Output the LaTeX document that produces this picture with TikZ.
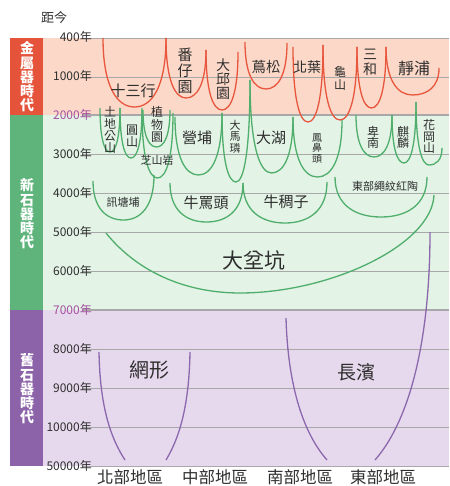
\documentclass[tikz,border=0pt]{standalone}
\usepackage{fontspec}
\setmainfont{Noto Sans CJK TC}
\definecolor{metalline}{HTML}{E8563E}
\definecolor{neoline}{HTML}{4FAE6C}
\definecolor{paleoline}{HTML}{8B68AD}
\definecolor{metalbg}{HTML}{FBD8C8}
\definecolor{neobg}{HTML}{E3F3E6}
\definecolor{paleobg}{HTML}{E7D9ED}
\definecolor{metalbox}{HTML}{E5533A}
\definecolor{neobox}{HTML}{5EB47B}
\definecolor{paleobox}{HTML}{8C63A9}
\definecolor{gridgrey}{HTML}{A8A8A8}
\definecolor{labtext}{HTML}{2E2E2E}
\definecolor{bounds}{HTML}{A5509F}
\newcommand{\fs}[1]{\fontsize{#1}{#1}\selectfont}
% U-shaped span: left top, right top, bottom
\newcommand{\ubowl}[5]{(#1,#2) .. controls (#1,{#2+0.7*(#5-#2)}) and ({#1+0.22*(#3-#1)},#5) .. ({(#1+#3)/2},#5)
  .. controls ({#3-0.22*(#3-#1)},#5) and (#3,{#4+0.7*(#5-#4)}) .. (#3,#4)}
\tikzset{
  metal/.style={draw=metalline,line width=1.3pt},
  neo/.style={draw=neoline,line width=1.3pt},
  paleo/.style={draw=paleoline,line width=1.3pt},
  lab/.style={text=labtext,inner sep=0pt},
  vlab/.style={lab,align=center},
  year/.style={anchor=east,inner sep=0pt,text=labtext,font=\fontsize{12}{13}\selectfont},
  agebox/.style={text=white,align=center,inner sep=0pt,font=\bfseries\fontsize{14}{14.3}\selectfont}
}
\begin{document}
\begin{tikzpicture}[x=1pt,y=-1pt]
  \useasboundingbox (0,0) rectangle (449,486);
  % bands
  \fill[metalbg] (43,38) rectangle (449,115);
  \fill[neobg] (43,115) rectangle (449,310);
  \fill[paleobg] (43,310) rectangle (449,466);
  \fill[metalbox] (10,38) rectangle (43,115);
  \fill[neobox] (10,115) rectangle (43,310);
  \fill[paleobox] (10,310) rectangle (43,466);
  \node[agebox] (metalage) at (27,77) {金\\屬\\器\\時\\代};
  \node[agebox] (neoage) at (27,214) {新\\石\\器\\時\\代};
  \node[agebox] (paleoage) at (27,389) {舊\\石\\器\\時\\代};
  % time lines
  \draw[gridgrey,line width=0.7pt] (82,38) -- (449,38) (82,77) -- (449,77) (82,154) -- (449,154)
     (82,193) -- (449,193) (82,232) -- (449,232) (82,271) -- (449,271) (82,349) -- (449,349)
     (82,388) -- (449,388) (82,427) -- (449,427) (82,466) -- (449,466);
  \draw[gridgrey,line width=1.2pt] (82,115) -- (449,115) (82,310) -- (449,310);
  \node[lab,font=\fs{13}] (since) at (54,18) {距今};
  \node[year] (y400) at (92,37) {400年};
  \node[year] (y1000) at (92,76) {1000年};
  \node[year,text=bounds] (y2000) at (92,115) {2000年};
  \node[year] (y3000) at (92,154) {3000年};
  \node[year] (y4000) at (92,193) {4000年};
  \node[year] (y5000) at (92,232) {5000年};
  \node[year] (y6000) at (92,271) {6000年};
  \node[year,text=bounds] (y7000) at (92,310) {7000年};
  \node[year] (y8000) at (92,349) {8000年};
  \node[year] (y9000) at (92,388) {9000年};
  \node[year] (y10000) at (92,427) {10000年};
  \node[year] (y50000) at (92,466) {50000年};
  % metal age
  \draw[metal] \ubowl{103}{38}{166}{38}{107};
  \draw[metal] \ubowl{166}{38}{206}{50}{98};
  \draw[metal] \ubowl{206}{50}{238}{52}{110};
  \draw[metal] \ubowl{245}{42}{287}{43}{89};
  \draw[metal] \ubowl{293}{47}{323}{45}{122};
  \draw[metal] \ubowl{323}{45}{357}{47}{120};
  \draw[metal] \ubowl{357}{47}{386}{47}{108};
  \draw[metal] \ubowl{386}{47}{439}{68}{95};
  \node[lab,font=\fs{15}] (shisanhang) at (133,91) {十三行};
  \node[vlab,font=\fontsize{15}{16}\selectfont] (fanziyuan) at (185,71) {番\\仔\\園};
  \node[vlab,font=\fontsize{14}{14}\selectfont] (daqiuyuan) at (223,79) {大\\邱\\園};
  \node[lab,font=\fs{14.5}] (niaosong) at (266,67) {蔦松};
  \node[lab,font=\fs{14}] (beiye) at (307,67) {北葉};
  \node[vlab,font=\fontsize{12}{13}\selectfont] (guishan) at (340,78.5) {龜\\山};
  \node[vlab,font=\fontsize{14}{15}\selectfont] (sanhe) at (370,62.5) {三\\和};
  \node[lab,font=\fs{16}] (jingpu) at (414,68) {靜浦};
  % neolithic age
  \draw[neo] \ubowl{100}{108}{120}{108}{152};
  \draw[neo] \ubowl{120}{108}{142}{108}{158};
  \draw[neo] \ubowl{143}{110}{170}{110}{147};
  \draw[neo] \ubowl{142}{110}{173}{113}{178};
  \draw[neo] \ubowl{93}{181}{154}{175}{220};
  \draw[neo] \ubowl{175}{117}{222}{113}{175};
  \draw[neo] \ubowl{222}{113}{250}{80}{182};
  \draw[neo] \ubowl{250}{80}{293}{117}{173};
  \draw[neo] \ubowl{293}{117}{342}{120}{177};
  \draw[neo] \ubowl{356}{115}{392}{115}{157};
  \draw[neo] \ubowl{392}{115}{416}{102}{163};
  \draw[neo] \ubowl{416}{102}{442}{148}{165};
  \draw[neo] \ubowl{170}{183}{243}{183}{222};
  \draw[neo] \ubowl{243}{183}{327}{182}{223};
  \draw[neo] \ubowl{335}{177}{427}{177}{217};
  \draw[neo] (106,233) .. controls (140,275) and (190,293) .. (240,293)
     .. controls (330,293) and (432,245) .. (434,195);
  \node[vlab,font=\fontsize{12}{12}\selectfont] (tudigongshan) at (110,130) {土\\地\\公\\山};
  \node[vlab,font=\fontsize{12}{12}\selectfont] (yuanshan) at (132,136) {圓\\山};
  \node[vlab,font=\fontsize{12}{12.5}\selectfont] (zhiwuyuan) at (157,124.5) {植\\物\\園};
  \node[lab,font=\fs{11}] (zhishanyan) at (157,160) {芝山岩};
  \node[lab,font=\fs{11}] (xuntangpu) at (123,202) {訊塘埔};
  \node[lab,font=\fs{15}] (yingpu) at (197,138) {營埔};
  \node[vlab,font=\fontsize{11}{11.5}\selectfont] (damalin) at (235,136.5) {大\\馬\\璘};
  \node[lab,font=\fs{15}] (dahu) at (271,138) {大湖};
  \node[vlab,font=\fontsize{10}{10.5}\selectfont] (fengbitou) at (317,148) {鳳\\鼻\\頭};
  \node[vlab,font=\fontsize{12}{11.5}\selectfont] (beinan) at (373,137.5) {卑\\南};
  \node[vlab,font=\fontsize{12}{11.5}\selectfont] (qilin) at (403,137.5) {麒\\麟};
  \node[vlab,font=\fontsize{12}{11.5}\selectfont] (huagangshan) at (429,136.5) {花\\岡\\山};
  \node[lab,font=\fs{15}] (niumatou) at (206,203) {牛罵頭};
  \node[lab,font=\fs{15}] (niuchouzi) at (286,202) {牛稠子};
  \node[lab,font=\fs{11}] (shengwen) at (385,186) {東部繩紋紅陶};
  \node[lab,font=\fs{21}] (dabenkeng) at (254,260) {大坌坑};
  % paleolithic age
  \draw[paleo] (99,352) .. controls (100,410) and (112,440) .. (125,460);
  \draw[paleo] (190,352) .. controls (189,410) and (178,440) .. (166,460);
  \draw[paleo] (286,318) .. controls (288,390) and (305,435) .. (327,460);
  \draw[paleo] (430,232) .. controls (430,340) and (410,420) .. (375,460);
  \node[lab,font=\fs{20}] (wangxing) at (149,370) {網形};
  \node[lab,font=\fs{19}] (changbin) at (356,372) {長濱};
  % regions
  \node[lab,font=\fs{16.5}] (north) at (130,477) {北部地區};
  \node[lab,font=\fs{16.5}] (middle) at (215,477) {中部地區};
  \node[lab,font=\fs{16.5}] (south) at (300,477) {南部地區};
  \node[lab,font=\fs{16.5}] (east) at (383,477) {東部地區};
\end{tikzpicture}
\end{document}
